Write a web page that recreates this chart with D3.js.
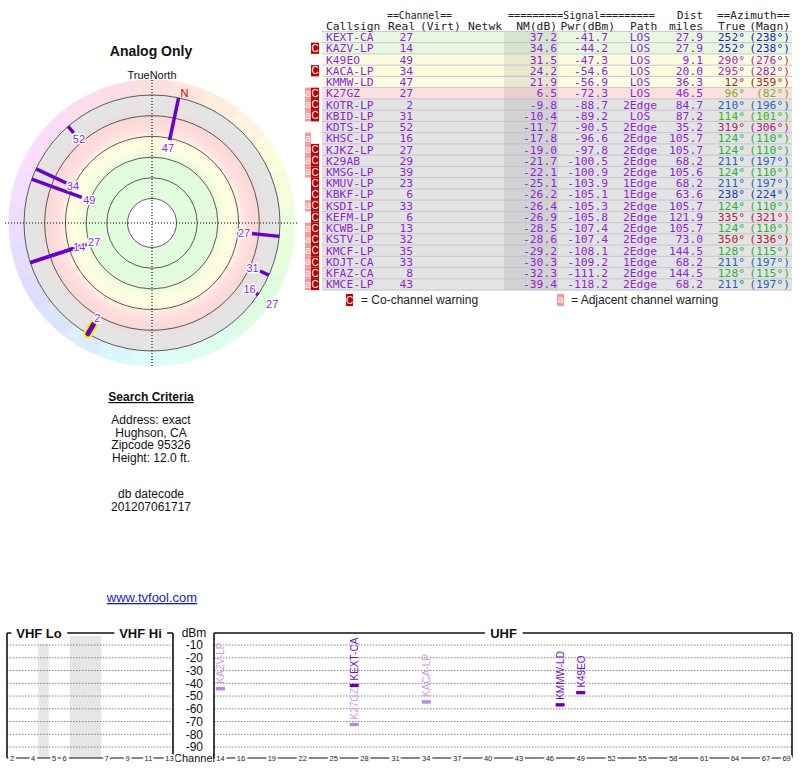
<!DOCTYPE html>
<html><head><meta charset="utf-8">
<script src="https://cdn.jsdelivr.net/npm/d3@7"></script>
<style>
body{margin:0;background:#fff;}
svg{display:block;}
</style></head>
<body>
<svg id="chart" width="800" height="768"></svg>
<script>
// ---------- DATA ----------
const callsigns = ["KEXT-CA","KAZV-LP","K49EO","KACA-LP","KMMW-LD","K27GZ","KOTR-LP","KBID-LP","KDTS-LP","KHSC-LP","KJKZ-LP","K29AB","KMSG-LP","KMUV-LP","KBKF-LP","KSDI-LP","KEFM-LP","KCWB-LP","KSTV-LP","KMCF-LP","KDJT-CA","KFAZ-CA","KMCE-LP"];
const realCh = [27,14,49,34,47,27,2,31,52,16,27,29,39,23,6,33,6,13,32,35,33,8,43];
const nmDb = [37.2,34.6,31.5,24.2,21.9,6.5,-9.8,-10.4,-11.7,-17.8,-19.0,-21.7,-22.1,-25.1,-26.2,-26.4,-26.9,-28.5,-28.6,-29.2,-30.3,-32.3,-39.4];
const pwrDbm = [-41.7,-44.2,-47.3,-54.6,-56.9,-72.3,-88.7,-89.2,-90.5,-96.6,-97.8,-100.5,-100.9,-103.9,-105.1,-105.3,-105.8,-107.4,-107.4,-108.1,-109.2,-111.2,-118.2];
const paths = ["LOS","LOS","LOS","LOS","LOS","LOS","2Edge","LOS","2Edge","2Edge","2Edge","2Edge","2Edge","1Edge","1Edge","2Edge","2Edge","2Edge","2Edge","2Edge","1Edge","2Edge","2Edge"];
const distMiles = [27.9,27.9,9.1,20.0,36.3,46.5,84.7,87.2,35.2,105.7,105.7,68.2,105.6,68.2,63.6,105.7,121.9,105.7,73.0,144.5,68.2,144.5,68.2];
const azTrue = [252,252,290,295,12,96,210,114,319,124,124,211,124,211,238,124,335,124,350,128,211,128,211];
const azMagn = [238,238,276,282,359,82,196,101,306,110,110,197,110,197,224,110,321,110,336,115,197,115,197];
const flags = ["","C","","C","","aC","aC","aC","","a","aC","aC","aC","C","C","aC","C","aC","aC","aC","aC","aC","aC"];

const polarRings = [80,60,40,20,0,-20];          // NM dB ring levels
const dbmTicks = [-10,-20,-30,-40,-50,-60,-70,-80,-90];
const vhfTickLabels = [2,4,5,6,7,9,11,13];
const vhfSlots = {2:0,3:1,4:2,5:4,6:5,7:9,8:10,9:11,10:12,11:13,12:14,13:15};
const vhfGaps = [[2.5,3.5],[5.5,8.5]];
const uhfTickLabels = [14,16,19,22,25,28,31,34,37,40,43,46,49,52,55,58,61,64,67,69];
const searchLines = ["Address: exact","Hughson, CA","Zipcode 95326","Height: 12.0 ft."];
const dateLines = ["db datecode","201207061717"];

// ---------- SETUP ----------
const svg = d3.select("#chart");
const SANS = "'Liberation Sans', Arial, Helvetica, sans-serif";
const MONO = "'DejaVu Sans Mono', monospace";
const n = callsigns.length;
const rows = d3.range(n).map(i => ({i, call:callsigns[i], ch:realCh[i], nm:nmDb[i], pwr:pwrDbm[i], path:paths[i], dist:distMiles[i], az:azTrue[i], mag:azMagn[i], flag:flags[i]}));
const declination = azTrue[0] - azMagn[0];

const hueMap = d3.scaleLinear().domain([0,12,96,120,210,250,290,320,350,360]).range([0,0,85,122,212,238,300,330,358,360]);
const azColor = az => d3.hsl(hueMap(az), 0.68, 0.42).formatHex();

// ---------- LEFT TEXTS ----------
svg.append("text").attr("x",151).attr("y",56).attr("text-anchor","middle")
  .attr("font-family",SANS).attr("font-weight","bold").attr("font-size",14).attr("fill","#111").text("Analog Only");
svg.append("text").attr("x",152).attr("y",79).attr("text-anchor","middle")
  .attr("font-family",SANS).attr("font-size",11).attr("fill","#111").text("TrueNorth");

// ---------- POLAR ----------
const cx = 152, cy = 223;
const rScale = d3.scaleLinear().domain([-20,80]).range([128,24.5]);
const pg = svg.append("g").attr("transform",`translate(${cx},${cy})`);
const defs = svg.append("defs");
const grad = defs.append("radialGradient").attr("id","zones").attr("gradientUnits","userSpaceOnUse")
  .attr("cx",0).attr("cy",0).attr("r",128);
[[0,"#e2fbe0"],[0.5,"#e3fbdd"],[0.56,"#f8fddc"],[0.63,"#fffde0"],[0.69,"#fff0e2"],[0.72,"#ffe2e0"],[0.8,"#fdd9d9"],[0.86,"#eadede"],[0.9,"#e4e4e4"],[1,"#e4e4e4"]]
  .forEach(([o,c]) => grad.append("stop").attr("offset",o).attr("stop-color",c));

// outer hue ring
const arcGen = d3.arc().innerRadius(128).outerRadius(143.5);
const segs = d3.range(24);
pg.selectAll("path.hue").data(segs).join("path").attr("class","hue")
  .attr("d", k => arcGen({startAngle:(k*15-7.5)*Math.PI/180, endAngle:(k*15+7.5)*Math.PI/180}))
  .attr("fill", k => d3.hsl(k*15, 0.9, 0.93).formatHex());
pg.append("circle").attr("r",128).attr("fill","url(#zones)");
pg.append("circle").attr("r",rScale(80)).attr("fill","#fff");
pg.selectAll("circle.ring").data(polarRings).join("circle").attr("class","ring")
  .attr("r", d => rScale(d)).attr("fill","none").attr("stroke","#333").attr("stroke-width",0.8);
// crosshair
svg.append("line").attr("x1",5).attr("x2",299).attr("y1",cy).attr("y2",cy)
  .attr("stroke","#000").attr("stroke-width",1).attr("stroke-dasharray","1,2");
svg.append("line").attr("x1",cx).attr("x2",cx).attr("y1",80).attr("y2",367)
  .attr("stroke","#000").attr("stroke-width",1).attr("stroke-dasharray","1,2");

const pol = (az, r) => { const a = az*Math.PI/180; return [r*Math.sin(a), -r*Math.cos(a)]; };
const shown = rows.filter(d => d.nm >= -20);
// highlight for VHF-Lo
shown.filter(d => d.ch <= 6).forEach(d => {
  const [x1,y1] = pol(d.az, rScale(d.nm)), [x2,y2] = pol(d.az, 128);
  pg.append("line").attr("x1",x1).attr("y1",y1).attr("x2",x2).attr("y2",y2)
    .attr("stroke","#f4ee00").attr("stroke-width",9).attr("stroke-linecap","round");
});
pg.selectAll("line.st").data(shown).join("line").attr("class","st")
  .attr("x1", d => pol(d.az, rScale(d.nm))[0]).attr("y1", d => pol(d.az, rScale(d.nm))[1])
  .attr("x2", d => pol(d.az, 128)[0]).attr("y2", d => pol(d.az, 128)[1])
  .attr("stroke","#6a00cc").attr("stroke-width", d => d.ch <= 6 ? 5 : 3.5)
  .attr("stroke-linecap", d => d.ch <= 6 ? "round" : "butt");
// labels with simple collision avoidance
const placed = [];
shown.forEach(d => {
  let r = rScale(d.nm) - 8;
  let p = pol(d.az, r);
  while (placed.some(q => Math.abs(q[0]-p[0]) < 12 && Math.abs(q[1]-p[1]) < 10)) { r += 13; p = pol(d.az, r); }
  placed.push(p);
  d.lp = p;
});
pg.selectAll("text.lab").data(shown).join("text").attr("class","lab")
  .attr("x", d => d.lp[0]).attr("y", d => d.lp[1]).attr("dy","0.36em").attr("text-anchor","middle")
  .attr("font-family",SANS).attr("font-size",11).attr("fill","#8a2be2")
  .attr("stroke","#fff").attr("stroke-width",2.5).attr("paint-order","stroke")
  .text(d => d.ch);
const np = pol(declination, 134);
pg.append("text").attr("x",np[0]).attr("y",np[1]).attr("dy","0.36em").attr("text-anchor","middle")
  .attr("font-family",SANS).attr("font-size",11).attr("fill","#dd0000").text("N");

// ---------- SEARCH CRITERIA ----------
svg.append("text").attr("x",151).attr("y",401).attr("text-anchor","middle")
  .attr("font-family",SANS).attr("font-weight","bold").attr("font-size",12).attr("fill","#111")
  .attr("text-decoration","underline").text("Search Criteria");
svg.selectAll("text.sc").data(searchLines).join("text").attr("class","sc")
  .attr("x",151).attr("y",(d,i)=>424+i*12.6).attr("text-anchor","middle")
  .attr("font-family",SANS).attr("font-size",12).attr("fill","#111").text(d=>d);
svg.selectAll("text.dc").data(dateLines).join("text").attr("class","dc")
  .attr("x",151).attr("y",(d,i)=>498+i*12.6).attr("text-anchor","middle")
  .attr("font-family",SANS).attr("font-size",12).attr("fill","#111").text(d=>d);
svg.append("text").attr("x",152).attr("y",602).attr("text-anchor","middle")
  .attr("font-family",SANS).attr("font-size",13).attr("fill","#1a1acc")
  .attr("text-decoration","underline").text("www.tvfool.com");

// ---------- TABLE ----------
const rowY = d3.scaleBand().domain(d3.range(n)).range([31.4,290.1]);
const bh = rowY.bandwidth();
const rowFill = nm => nm >= 33 ? "#e8f8e0" : nm >= 15 ? "#fcfce0" : nm >= 0 ? "#fde0e0" : "#e3e3e3";
const tg = svg.append("g");
tg.selectAll("rect.rb").data(rows).join("rect").attr("class","rb")
  .attr("x",322).attr("width",470).attr("y",d=>rowY(d.i)).attr("height",bh).attr("fill",d=>rowFill(d.nm));
tg.append("rect").attr("x",504).attr("width",54).attr("y",rowY(0)).attr("height",bh*n).attr("fill","rgba(0,0,0,0.075)");
tg.selectAll("line.sep").data(d3.range(n+1)).join("line").attr("class","sep")
  .attr("x1",322).attr("x2",792).attr("y1",i=>rowY(0)+i*bh).attr("y2",i=>rowY(0)+i*bh)
  .attr("stroke","#b9bcc8").attr("stroke-width",0.8);
// flags
rows.forEach(d => {
  const y = rowY(d.i);
  if (d.flag.includes("a")) {
    tg.append("rect").attr("x",305).attr("y",y).attr("width",6).attr("height",bh).attr("fill","#f49a9a");
    tg.append("text").attr("x",308).attr("y",y+bh/2+3.5).attr("text-anchor","middle").attr("font-family",SANS)
      .attr("font-size",10).attr("fill","#fff").text("a");
  }
  if (d.flag.includes("C")) {
    tg.append("rect").attr("x",311).attr("y",y).attr("width",8).attr("height",bh).attr("fill","#c00000");
    tg.append("text").attr("x",315).attr("y",y+bh/2+3.6).attr("text-anchor","middle").attr("font-family",SANS)
      .attr("font-size",10).attr("fill","#fff").text("C");
  }
});
const TXT = "#8f1fdc";
const cols = [
  {x:326, a:"start", f:d=>d.call},
  {x:413, a:"end", f:d=>d.ch},
  {x:557, a:"end", f:d=>d.nm.toFixed(1)},
  {x:608, a:"end", f:d=>d.pwr.toFixed(1)},
  {x:640, a:"middle", f:d=>d.path},
  {x:703, a:"end", f:d=>d.dist.toFixed(1)},
  {x:745, a:"end", f:d=>d.az+"°", c:true},
  {x:790, a:"end", f:d=>"("+d.mag+"°)", c:true}
];
cols.forEach(col => {
  tg.selectAll(null).data(rows).join("text")
    .attr("x",col.x).attr("y",d=>rowY(d.i)+bh/2+4).attr("text-anchor",col.a)
    .attr("font-family",MONO).attr("font-size",11.3)
    .attr("fill", d => col.c ? azColor(d.az) : TXT).text(col.f);
});
// headers
const H = "#222";
[["==Channel==",387,65],["=========Signal=========",508,147],["Dist",677,26],["==Azimuth==",717,73]].forEach(([t,x,w])=>{
  tg.append("text").attr("x",x).attr("y",19).attr("font-family",MONO).attr("font-size",11.3).attr("fill",H)
    .attr("textLength",w).attr("lengthAdjust","spacingAndGlyphs").text(t);
});
[["Callsign",326,"start"],["Real",388,"start"],["(Virt)",420,"start"],["Netwk",468,"start"],["NM(dB)",557,"end"],
 ["Pwr(dBm)",615,"end"],["Path",630,"start"],["miles",703,"end"],["True",718,"start"],["(Magn)",790,"end"]].forEach(([t,x,a])=>{
  tg.append("text").attr("x",x).attr("y",30).attr("text-anchor",a).attr("font-family",MONO).attr("font-size",11.3).attr("fill",H).text(t);
});
// legend
tg.append("rect").attr("x",346).attr("y",294).attr("width",7).attr("height",12).attr("fill","#c00000");
tg.append("text").attr("x",349.5).attr("y",304).attr("text-anchor","middle").attr("font-family",SANS).attr("font-size",10).attr("fill","#fff").text("C");
tg.append("text").attr("x",361).attr("y",304).attr("font-family",SANS).attr("font-size",12).attr("fill","#222").text("= Co-channel warning");
tg.append("rect").attr("x",557).attr("y",294).attr("width",7).attr("height",12).attr("fill","#f49a9a");
tg.append("text").attr("x",560.5).attr("y",303).attr("text-anchor","middle").attr("font-family",SANS).attr("font-size",10).attr("fill","#fff").text("a");
tg.append("text").attr("x",571).attr("y",304).attr("font-family",SANS).attr("font-size",12).attr("fill","#222").text("= Adjacent channel warning");

// ---------- SPECTRUM ----------
const sg = svg.append("g");
const yS = d3.scaleLinear().domain([0,-100]).range([632.3,759.8]);
const xV = d3.scaleLinear().domain([0,15]).range([12,169.5]);
const xU = d3.scaleLinear().domain([16,67]).range([241,766]);
const topY = 633, botY = 758;
const VL = 7, VR = 173, UL = 214, UR = 792;
// gap bands
sg.selectAll("rect.gap").data(vhfGaps).join("rect").attr("class","gap")
  .attr("x",d=>xV(d[0])).attr("width",d=>xV(d[1])-xV(d[0])).attr("y",636).attr("height",botY-636).attr("fill","#e6e6e6");
// gridlines
[[VL,VR],[UL,UR]].forEach(([a,b]) => {
  sg.selectAll(null).data(dbmTicks).join("line").attr("x1",a).attr("x2",b)
    .attr("y1",d=>yS(d)).attr("y2",d=>yS(d)).attr("stroke","#777").attr("stroke-width",0.9).attr("stroke-dasharray","1.5,1.5");
});
// frames
const fr = (x1,y1,x2,y2,w=1.6) => sg.append("line").attr("x1",x1).attr("y1",y1).attr("x2",x2).attr("y2",y2).attr("stroke","#111").attr("stroke-width",w);
fr(VL,topY,VL,botY); fr(VR,topY,VR,botY); fr(VL,topY,VR,topY);
fr(UL,topY,UL,botY); fr(UR,topY,UR,botY); fr(UL,topY,UR,topY);
fr(VL,botY,VR,botY,1.2); fr(UL,botY,UR,botY,1.2);
// panel titles (white halo breaks frame line)
[["VHF Lo",39],["VHF Hi",140.5],["UHF",503.5]].forEach(([t,x]) => {
  sg.append("text").attr("x",x).attr("y",topY+4.5).attr("text-anchor","middle").attr("font-family",SANS)
    .attr("font-weight","bold").attr("font-size",13).attr("fill","#111")
    .attr("stroke","#fff").attr("stroke-width",12).attr("paint-order","stroke").text(t);
});
// dBm labels
sg.append("text").attr("x",194).attr("y",topY+4).attr("text-anchor","middle").attr("font-family",SANS).attr("font-size",12).attr("fill","#111").text("dBm");
sg.selectAll("text.db").data(dbmTicks).join("text").attr("class","db")
  .attr("x",203).attr("y",d=>yS(d)+4.2).attr("text-anchor","end").attr("font-family",SANS).attr("font-size",12).attr("fill","#111").text(d=>d);
sg.append("text").attr("x",194.5).attr("y",botY+3.5).attr("text-anchor","middle").attr("font-family",SANS).attr("font-size",11).attr("fill","#111").text("Channel");
// channel tick labels
sg.selectAll("text.vt").data(vhfTickLabels).join("text").attr("class","vt")
  .attr("x",d=>xV(vhfSlots[d])).attr("y",botY+2.5).attr("text-anchor","middle").attr("font-family",SANS).attr("font-size",7.5)
  .attr("fill","#222").attr("stroke","#fff").attr("stroke-width",4).attr("paint-order","stroke").text(d=>d);
sg.selectAll("text.ut").data(uhfTickLabels).join("text").attr("class","ut")
  .attr("x",d=>xU(d)).attr("y",botY+2.5).attr("text-anchor","middle").attr("font-family",SANS).attr("font-size",7.5)
  .attr("fill","#222").attr("stroke","#fff").attr("stroke-width",4).attr("paint-order","stroke").text(d=>d);
// station bars
const spec = rows.filter(d => d.nm >= 0);
const sx = d => d.ch >= 14 ? xU(d.ch) : xV(vhfSlots[d.ch]);
const dark = d => d.flag === "";
sg.selectAll("rect.bar").data(spec).join("rect").attr("class","bar")
  .attr("x",d=>sx(d)-4.5).attr("width",9).attr("y",d=>yS(d.pwr)-1.7).attr("height",3.4)
  .attr("fill",d=>dark(d) ? "#6400b8" : "#b486e6");
sg.selectAll("text.sl").data(spec).join("text").attr("class","sl")
  .attr("transform",d=>`translate(${sx(d)+0.5},${yS(d.pwr)-5}) rotate(-90)`)
  .attr("dy","0.35em").attr("font-family",SANS).attr("font-size",10)
  .attr("fill",d=>dark(d) ? "#7410cc" : "#c4a0ee").text(d=>d.call);
</script>
</body></html>
